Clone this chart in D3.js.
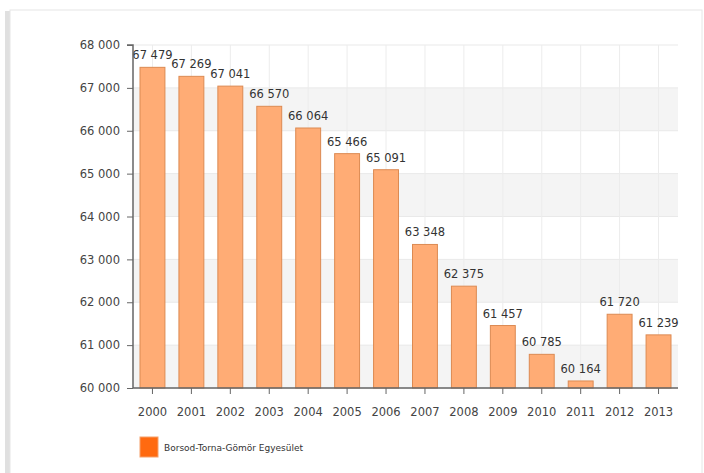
<!DOCTYPE html>
<html>
<head>
<meta charset="utf-8">
<script src="https://cdn.jsdelivr.net/npm/d3@7"></script>
<style>
  html, body { margin: 0; padding: 0; background: #fff; }
  svg { display: block; font-family: "DejaVu Sans", Verdana, sans-serif; }
</style>
</head>
<body>
<svg id="chart" width="704" height="473"></svg>
<script>
// data
const years = ['2000', '2001', '2002', '2003', '2004', '2005', '2006', '2007', '2008', '2009', '2010', '2011', '2012', '2013'];
const members = [67479, 67269, 67041, 66570, 66064, 65466, 65091, 63348, 62375, 61457, 60785, 60164, 61720, 61239];
const yTicks = [60000, 61000, 62000, 63000, 64000, 65000, 66000, 67000, 68000];
const seriesName = 'Borsod-Torna-Gömör Egyesület';

const svg = d3.select('#chart');
const fmt = v => d3.format(',')(v).replace(/,/g, ' ');

const plotL = 133, plotR = 678, plotT = 45, plotB = 388;

// card frame
svg.append('rect').attr('x', 5).attr('y', 11).attr('width', 5).attr('height', 462).attr('fill', '#e0e0e0');
svg.append('rect').attr('x', 10).attr('y', 10).attr('width', 692).attr('height', 465)
  .attr('fill', '#fff').attr('stroke', '#e6e6e6');

const x = d3.scaleBand(years, [plotL, plotR]).paddingInner(0.36).paddingOuter(0.18);
const y = d3.scaleLinear([60000, 68000], [plotB, plotT]);

// alternating bands
const bands = yTicks.slice(0, -1).filter((d, i) => i % 2 === 0);
svg.append('g').selectAll('rect').data(bands).join('rect')
  .attr('x', plotL).attr('width', plotR - plotL)
  .attr('y', d => y(d + 1000)).attr('height', d => y(d) - y(d + 1000))
  .attr('fill', '#f4f4f4');

// grid
svg.append('g').selectAll('line').data(yTicks).join('line')
  .attr('x1', plotL).attr('x2', plotR)
  .attr('y1', d => y(d)).attr('y2', d => y(d))
  .attr('stroke', '#e9e9e9');
svg.append('g').selectAll('line').data(years).join('line')
  .attr('x1', d => x(d) + x.bandwidth() / 2).attr('x2', d => x(d) + x.bandwidth() / 2)
  .attr('y1', plotT).attr('y2', plotB)
  .attr('stroke', '#ececec');

// bars
svg.append('g').selectAll('rect').data(years).join('rect')
  .attr('x', d => x(d)).attr('width', x.bandwidth())
  .attr('y', (d, i) => y(members[i])).attr('height', (d, i) => plotB - y(members[i]))
  .attr('fill', '#ffac75').attr('stroke', '#dc8a52').attr('stroke-width', 1);

// value labels
svg.append('g').selectAll('text').data(years).join('text')
  .attr('x', d => x(d) + x.bandwidth() / 2)
  .attr('y', (d, i) => y(members[i]) - 8)
  .attr('text-anchor', 'middle')
  .attr('font-size', 11.5).attr('fill', '#333')
  .text((d, i) => fmt(members[i]));

// axes
const yAxis = svg.append('g').attr('transform', `translate(${plotL},0)`)
  .call(d3.axisLeft(y).tickValues(yTicks).tickFormat(fmt).tickSize(6).tickPadding(7));
const xAxis = svg.append('g').attr('transform', `translate(0,${plotB})`)
  .call(d3.axisBottom(x).tickSize(6).tickPadding(14).tickSizeOuter(0));
[yAxis, xAxis].forEach(g => {
  g.selectAll('text').attr('font-size', 11.5).attr('fill', '#444').style('font-family', '"DejaVu Sans", Verdana, sans-serif');
  g.selectAll('line').attr('stroke', '#666');
  g.select('.domain').attr('stroke', '#666').attr('stroke-width', 1.5);
});
yAxis.select('.domain').attr('d', `M-6,${plotT}H0V${plotB}`);
xAxis.select('.domain').attr('d', `M0,0H${plotR - plotL}`).attr('transform', `translate(${plotL},0)`);

// legend
svg.append('rect').attr('x', 140).attr('y', 437).attr('width', 18).attr('height', 20)
  .attr('fill', '#ff6a10').attr('stroke', '#f5a06a');
svg.append('text').attr('x', 164).attr('y', 451)
  .attr('font-size', 9).attr('fill', '#333').text(seriesName);
</script>
</body>
</html>
